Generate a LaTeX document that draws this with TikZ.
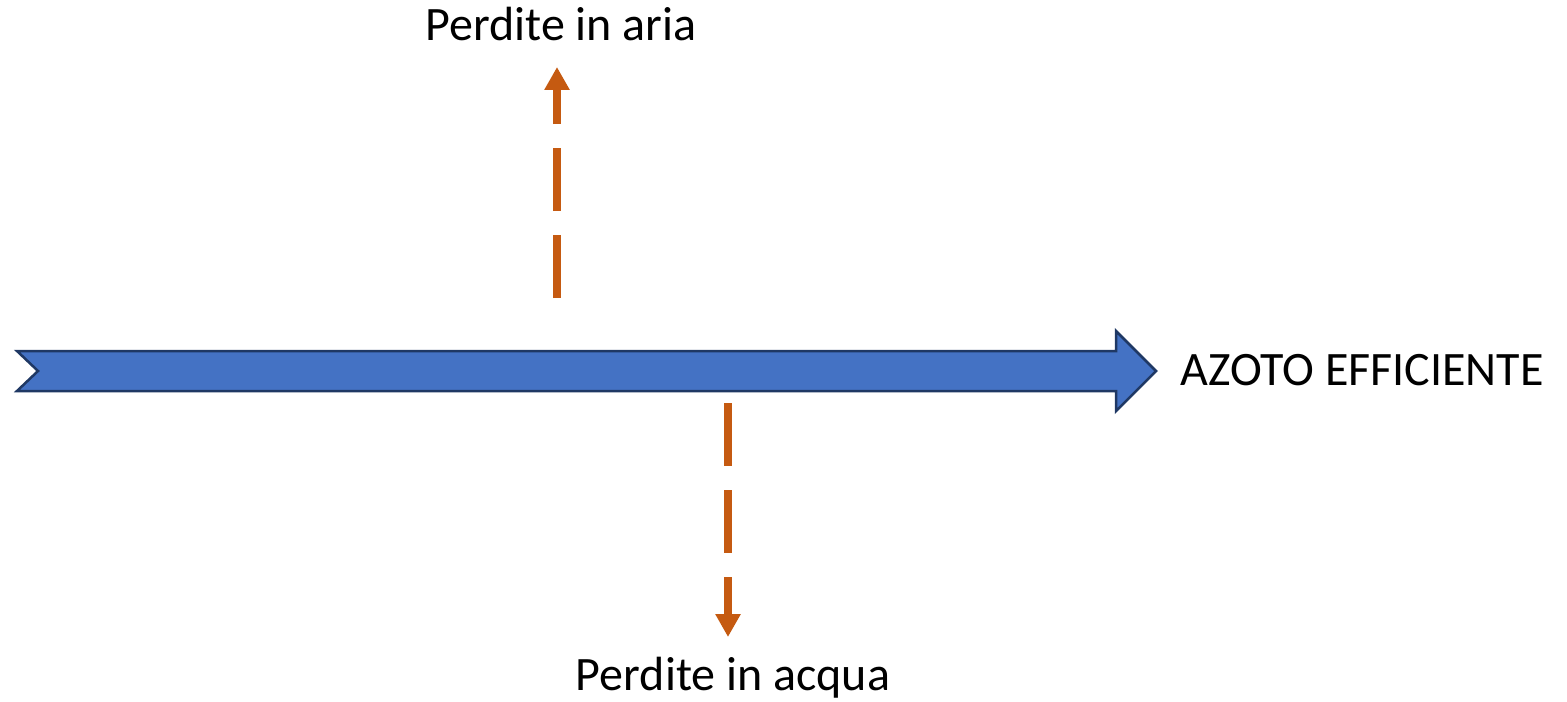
\documentclass[tikz,border=0pt]{standalone}
\usepackage{fontspec}
\setmainfont{Carlito}
\usetikzlibrary{arrows.meta}
\definecolor{bluefill}{HTML}{4472C4}
\definecolor{blueline}{HTML}{1F3864}
\definecolor{lossorange}{HTML}{C55A11}
\begin{document}
\begin{tikzpicture}[x=0.5pt,y=-0.5pt,
  lbl/.style={font=\fontsize{24pt}{29pt}\selectfont, inner sep=0pt, anchor=base},
  loss/.style={draw=lossorange, line width=4pt, line cap=butt,
    dash pattern=on 31.5pt off 12pt,
    -{Triangle[width=12pt,length=11.5pt,fill=lossorange,color=lossorange]}}
  ]
  \useasboundingbox (0,0) rectangle (1567,701);
  % main flow arrow
  \draw[fill=bluefill, draw=blueline, line width=1.25pt, line join=miter]
    (17,351) -- (1116,351) -- (1116,331) -- (1156,371) -- (1116,411)
    -- (1116,391) -- (17,391) -- (38,371) -- cycle;
  \coordinate (mainarrow) at (1156,371);
  \node[lbl, anchor=base west] (azoto) at (1180,385) {AZOTO EFFICIENTE};
  % loss arrows
  \coordinate (airtail) at (557,298);
  \coordinate (airtip) at (557,67);
  \coordinate (watertail) at (728,403);
  \coordinate (watertip) at (728,637);
  \draw[loss] (airtail) -- (airtip);
  \draw[loss] (watertail) -- (watertip);
  \node[lbl] (aria) at (561,41) {Perdite in aria};
  \node[lbl] (acqua) at (733,690) {Perdite in acqua};
\end{tikzpicture}
\end{document}
